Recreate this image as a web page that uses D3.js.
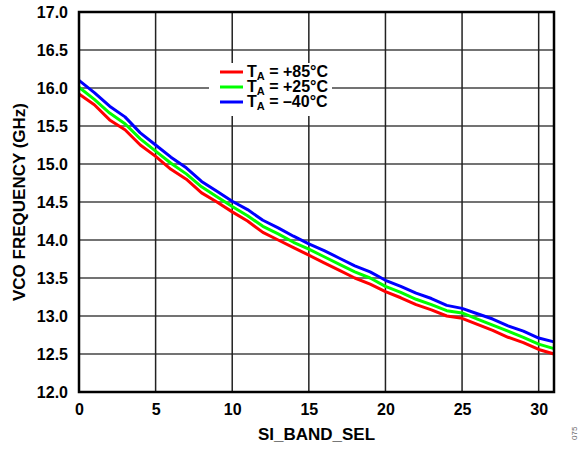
<!DOCTYPE html>
<html><head><meta charset="utf-8">
<script src="https://cdn.jsdelivr.net/npm/d3@7"></script>
<style>body{margin:0;background:#fff}svg{display:block;font-family:"Liberation Sans",Arial,sans-serif;font-weight:bold}</style>
</head><body><svg id="c" width="580" height="449"></svg>
<script>
const bandSel = d3.range(0, 32);
const ta85 = [15.92,15.78,15.58,15.45,15.25,15.10,14.93,14.80,14.62,14.50,14.37,14.25,14.10,14.00,13.90,13.80,13.70,13.60,13.50,13.42,13.32,13.24,13.15,13.08,13.00,12.97,12.89,12.81,12.72,12.65,12.56,12.50];
const ta25 = [16.01,15.85,15.67,15.53,15.33,15.17,15.01,14.87,14.70,14.57,14.44,14.32,14.18,14.08,13.97,13.88,13.78,13.68,13.58,13.50,13.39,13.31,13.22,13.15,13.07,13.04,12.96,12.88,12.80,12.72,12.63,12.57];
const taM40 = [16.10,15.94,15.76,15.62,15.41,15.25,15.09,14.95,14.77,14.64,14.51,14.40,14.26,14.16,14.05,13.95,13.86,13.76,13.66,13.58,13.47,13.39,13.30,13.23,13.14,13.10,13.03,12.96,12.87,12.80,12.71,12.66];
const seriesNames = ["+85°C","+25°C","\u201340°C"];
const seriesColors = ["#ff0000","#00ff00","#0000ff"];
const xTicks = [0,5,10,15,20,25,30];
const yTicks = [12.0,12.5,13.0,13.5,14.0,14.5,15.0,15.5,16.0,16.5,17.0];

const svg = d3.select("#c");
const L=79,R=554,T=12,B=392;
const x = d3.scaleLinear().domain([0,31]).range([L,R]);
const y = d3.scaleLinear().domain([12,17]).range([B,T]);

// grid
svg.append("g").selectAll("line").data(yTicks.slice(1,-1)).join("line")
  .attr("x1",L).attr("x2",R).attr("y1",d=>y(d)).attr("y2",d=>y(d))
  .attr("stroke","#444").attr("stroke-width",1.5);
svg.append("g").selectAll("line").data(xTicks.slice(1)).join("line")
  .attr("y1",T).attr("y2",B).attr("x1",d=>x(d)).attr("x2",d=>x(d))
  .attr("stroke","#222").attr("stroke-width",1.5);

// legend background
svg.append("rect").attr("x",209).attr("y",63).attr("width",123).attr("height",53).attr("fill","#fff");

// lines
const line = d3.line().x((d,i)=>x(bandSel[i])).y(d=>y(d));
[ta85,ta25,taM40].forEach((s,k)=>{
  svg.append("path").attr("d",line(s)).attr("fill","none")
    .attr("stroke",seriesColors[k]).attr("stroke-width",3).attr("stroke-linejoin","round");
});

// frame
svg.append("rect").attr("x",L).attr("y",T).attr("width",R-L).attr("height",B-T)
  .attr("fill","none").attr("stroke","#000").attr("stroke-width",2.5);

// axes labels
const yAxis = d3.axisLeft(y).tickValues(yTicks).tickFormat(d3.format(".1f")).tickSize(0).tickPadding(11);
const gy = svg.append("g").attr("transform",`translate(${L},0)`).call(yAxis);
gy.select(".domain").remove();
gy.selectAll("text").attr("font-size",16).attr("font-weight","bold").attr("fill","#000").attr("font-family","Liberation Sans, Arial, sans-serif");
const xAxis = d3.axisBottom(x).tickValues(xTicks).tickSize(0).tickPadding(12);
const gx = svg.append("g").attr("transform",`translate(0,${B})`).call(xAxis);
gx.select(".domain").remove();
gx.selectAll("text").attr("font-size",16).attr("font-weight","bold").attr("fill","#000").attr("font-family","Liberation Sans, Arial, sans-serif");

svg.append("text").attr("x",(L+R)/2).attr("y",440).attr("text-anchor","middle")
  .attr("font-size",17).text("SI_BAND_SEL");
svg.append("text").attr("transform",`translate(25,${(T+B)/2}) rotate(-90)`).attr("text-anchor","middle")
  .attr("font-size",17).text("VCO FREQUENCY (GHz)");

// legend
const ly=[72,87,102];
seriesNames.forEach((n,k)=>{
  svg.append("line").attr("x1",220).attr("x2",243).attr("y1",ly[k]).attr("y2",ly[k])
    .attr("stroke",seriesColors[k]).attr("stroke-width",3);
  const t = svg.append("text").attr("x",247).attr("y",ly[k]+5).attr("font-size",16);
  t.append("tspan").text("T");
  t.append("tspan").attr("font-size",11).attr("dy",3).text("A");
  t.append("tspan").attr("dy",-3).text(" = "+n);
});

svg.append("text").attr("transform","translate(577,440) rotate(-90)").attr("font-size",8)
  .attr("font-weight","normal").attr("fill","#666").text("075");
</script></body></html>
